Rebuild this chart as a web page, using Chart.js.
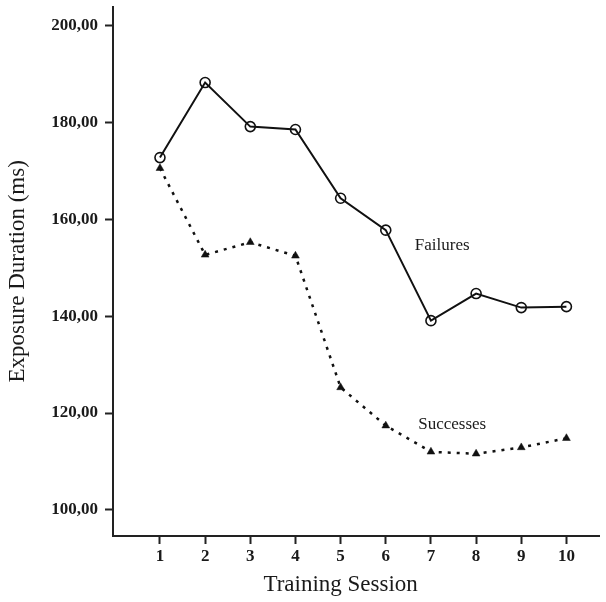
<!DOCTYPE html>
<html><head><meta charset="utf-8">
<script src="https://cdn.jsdelivr.net/npm/chart.js@4"></script>
<style>html,body{margin:0;padding:0;background:#fff;overflow:hidden}</style>
</head><body><canvas id="c" width="606" height="602" style="width:606px;height:602px;display:block"></canvas>
<script>
const sessions = [1,2,3,4,5,6,7,8,9,10];
const failures = [172.8,188.3,179.2,178.6,164.4,157.8,139.1,144.7,141.8,142.0];
const successes = [170.6,152.7,155.3,152.5,125.3,117.4,112.0,111.6,112.9,114.8];
const yTicks = [100,120,140,160,180,200];
const seriesLabels = [{text:'Failures', x:7.25, y:154.7},{text:'Successes', x:7.47, y:117.6}];
const xTitle = 'Training Session';
const yTitle = 'Exposure Duration (ms)';

const serif = '"Liberation Serif", "DejaVu Serif", serif';
const textPlugin = {
  id:'textPlugin',
  afterDraw(chart){
    const ctx = chart.ctx, xs = chart.scales.x, ys = chart.scales.y;
    ctx.save();
    ctx.fillStyle = '#1a1a1a';
    ctx.textAlign = 'center'; ctx.textBaseline = 'middle';
    ctx.font = '17px ' + serif;
    seriesLabels.forEach(l => ctx.fillText(l.text, xs.getPixelForValue(l.x), ys.getPixelForValue(l.y)));
    ctx.font = '23px ' + serif;
    ctx.fillText(xTitle, xs.getPixelForValue(5.0), 585);
    ctx.restore();
  }
};

new Chart(document.getElementById('c'), {
  type:'line',
  data:{ datasets:[
    { label:'Failures', data: sessions.map((s,i)=>({x:s,y:failures[i]})),
      borderColor:'#111', borderWidth:2, pointStyle:'circle', pointRadius:5,
      pointBorderWidth:1.6, pointBackgroundColor:'rgba(0,0,0,0)', pointBorderColor:'#111', tension:0 },
    { label:'Successes', data: sessions.map((s,i)=>({x:s,y:successes[i]})),
      borderColor:'#111', borderWidth:2.5, borderDash:[3,6], pointStyle:'triangle', pointRadius:4.5,
      pointBackgroundColor:'#111', pointBorderColor:'#111', pointBorderWidth:0.5, tension:0 }
  ]},
  options:{
    responsive:false, animation:false,
    layout:{ padding:{top:5,right:0,bottom:0,left:0} },
    plugins:{ legend:{display:false}, tooltip:{enabled:false} },
    scales:{
      x:{ type:'linear', min:-0.04, max:10.73,
        afterBuildTicks: s => { s.ticks = sessions.map(v=>({value:v})); },
        afterFit: s => { s.height = 66; s.paddingLeft = 0; s.paddingRight = 0; },
        grid:{ drawOnChartArea:false, tickLength:8, tickColor:'#222', tickWidth:2 },
        border:{ color:'#222', width:2 },
        ticks:{ color:'#1a1a1a', font:{family:serif, size:17, weight:'bold'}, padding:2, callback: v => String(v) } },
      y:{ min:94.6, max:204,
        afterBuildTicks: s => { s.ticks = yTicks.map(v=>({value:v})); },
        afterFit: s => { s.width = 113; s.paddingTop = 0; s.paddingBottom = 0; },
        grid:{ drawOnChartArea:false, tickLength:8, tickColor:'#222', tickWidth:2 },
        border:{ color:'#222', width:2 },
        title:{ display:true, text:yTitle, color:'#1a1a1a', font:{family:serif, size:23}, padding:{top:4,bottom:4} },
        ticks:{ color:'#1a1a1a', font:{family:serif, size:17, weight:'bold'}, padding:7,
          callback: v => Number(v).toFixed(2).replace('.', ',') } }
    }
  },
  plugins:[textPlugin]
});
</script></body></html>
